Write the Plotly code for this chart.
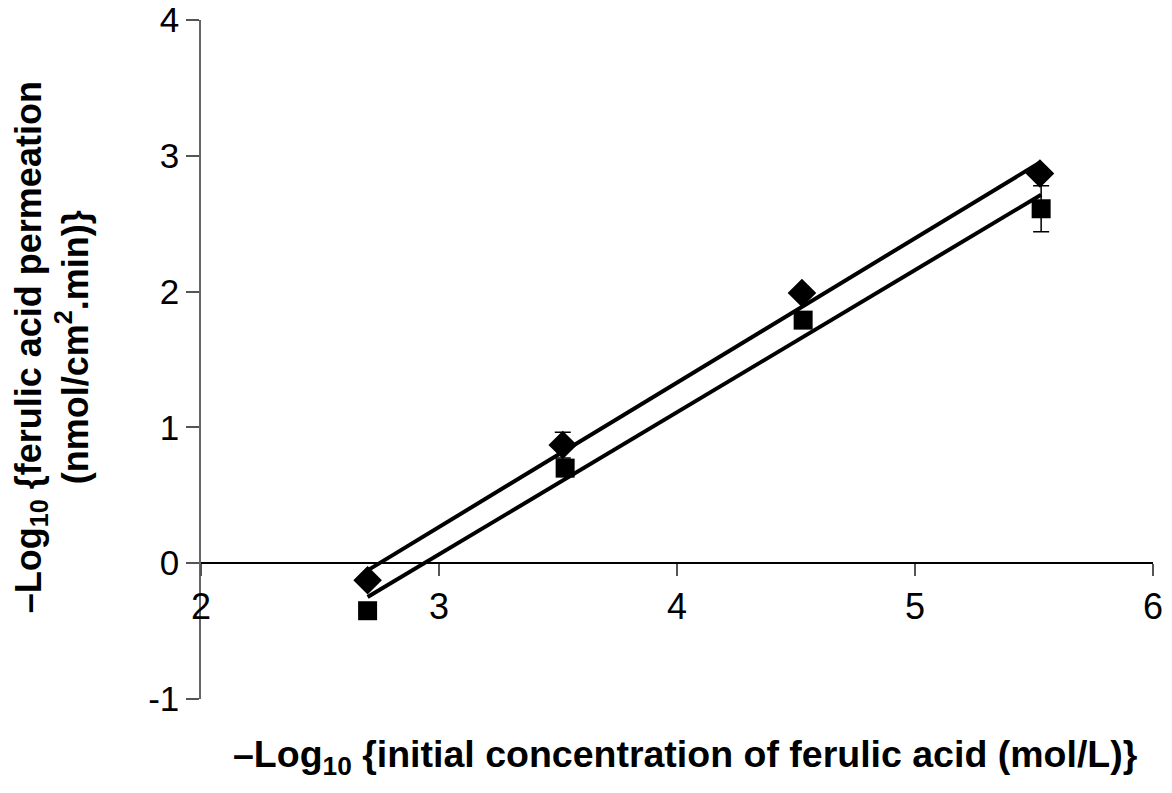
import numpy as np
import plotly.graph_objects as go

# Series 1 (diamonds)
x_dia = [2.70, 3.52, 4.525, 5.525]
y_dia = [-0.125, 0.87, 1.99, 2.87]
err_dia = [0.03, 0.095, 0.02, 0.03]

# Series 2 (squares)
x_sq = [2.70, 3.53, 4.53, 5.53]
y_sq = [-0.35, 0.70, 1.79, 2.61]
err_sq = [0.02, 0.03, 0.02, 0.17]

x_ticks = [2, 3, 4, 5, 6]
x_labels = ["2", "3", "4", "5", "6"]
y_ticks = [-1, 0, 1, 2, 3, 4]
y_labels = ["-1", "0", "1", "2", "3", "4"]

FONT = "Arial, Liberation Sans, sans-serif"

fig = go.Figure()

# linear trend lines (least squares fits of the data)
for xs, ys in [(x_dia, y_dia), (x_sq, y_sq)]:
    m, b = np.polyfit(xs, ys, 1)
    xl = [min(xs), max(xs)]
    fig.add_trace(go.Scatter(x=xl, y=[m * v + b for v in xl], mode="lines",
                             line=dict(color="black", width=4), showlegend=False,
                             hoverinfo="skip"))

fig.add_trace(go.Scatter(
    x=x_dia, y=y_dia, mode="markers",
    marker=dict(symbol="diamond", size=22, color="black"),
    error_y=dict(type="data", array=err_dia, visible=True, color="black", thickness=1.5, width=8),
    showlegend=False))
fig.add_trace(go.Scatter(
    x=x_sq, y=y_sq, mode="markers",
    marker=dict(symbol="square", size=19, color="black"),
    error_y=dict(type="data", array=err_sq, visible=True, color="black", thickness=1.5, width=8),
    showlegend=False))

fig.update_layout(
    width=1172, height=793,
    margin=dict(l=201, r=19, t=20, b=94),
    paper_bgcolor="white", plot_bgcolor="white",
    font=dict(family=FONT, color="black", size=30),
    xaxis=dict(range=[2, 6], tickvals=x_ticks, ticktext=x_labels, ticks="outside", ticklen=12,
               tickcolor="#555", tickwidth=1.5, showline=True, linecolor="black",
               linewidth=1.5, showgrid=False, zeroline=False, automargin=False,
               anchor="free", position=0.2, tickfont=dict(size=36)),
    yaxis=dict(range=[-1, 4], tickvals=y_ticks, ticktext=y_labels, ticks="outside", ticklen=13,
               tickcolor="#555", tickwidth=1.5, showline=True, linecolor="#666",
               linewidth=1.5, showgrid=False, zeroline=False, automargin=False,
               tickfont=dict(size=35)),
    annotations=[
        dict(text="<b>–Log<sub>10</sub> {initial concentration of ferulic acid (mol/L)}</b>",
             xref="paper", yref="paper", x=0.509, y=-0.0854, showarrow=False,
             xanchor="center", yanchor="middle", font=dict(size=37.5, family=FONT)),
        dict(text="<b>–Log<sub>10</sub> {ferulic acid permeation<br>(nmol/cm<sup>2</sup>.min)}</b>",
             xref="paper", yref="paper", x=-0.1565, y=0.518, showarrow=False,
             textangle=-90, xanchor="center", yanchor="middle",
             font=dict(size=36, family=FONT)),
    ],
)

fig.write_html("out.html")
